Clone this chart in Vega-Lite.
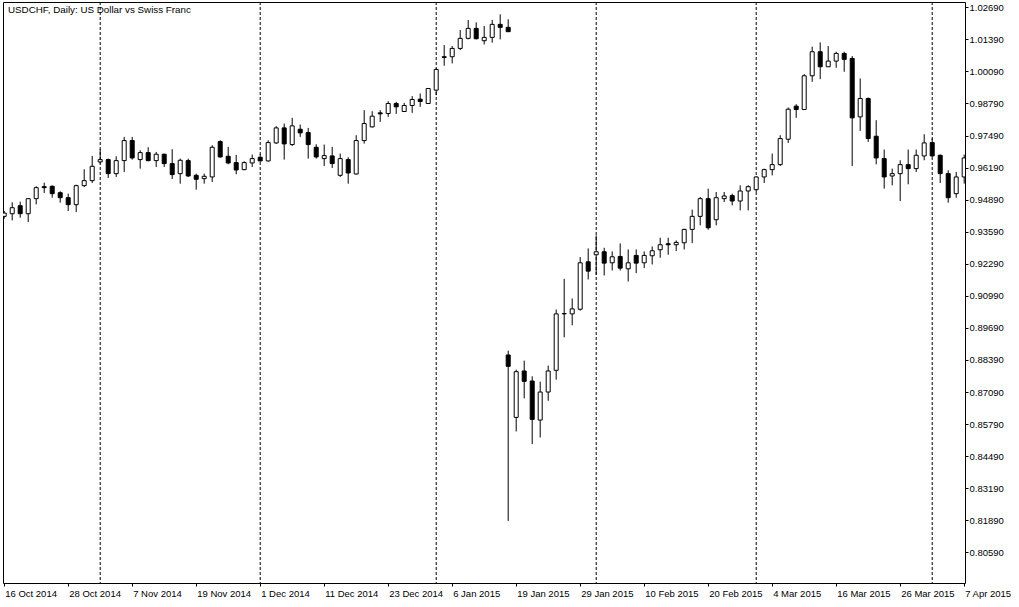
{
  "$schema": "https://vega.github.io/schema/vega-lite/v6.json",
  "width": 962,
  "height": 581,
  "autosize": {"type": "none"},
  "padding": {"left": 3, "top": 2, "right": 54, "bottom": 24},
  "background": "#FFFFFF",
  "title": {
    "text": "USDCHF, Daily:  US Dollar vs Swiss Franc",
    "anchor": "start",
    "frame": "group",
    "offset": -21,
    "baseline": "alphabetic",
    "dx": 5,
    "font": "Liberation Sans",
    "fontSize": 9.8,
    "fontWeight": "normal",
    "color": "#000000"
  },
  "data": {
    "values": [
      {"date": "16 Oct 2014", "open": 0.94212, "high": 0.94429, "low": 0.94117, "close": 0.94347},
      {"date": "17 Oct 2014", "open": 0.94320, "high": 0.94781, "low": 0.94049, "close": 0.94564},
      {"date": "20 Oct 2014", "open": 0.94645, "high": 0.94808, "low": 0.94158, "close": 0.94320},
      {"date": "21 Oct 2014", "open": 0.94320, "high": 0.94940, "low": 0.93982, "close": 0.94930},
      {"date": "22 Oct 2014", "open": 0.94930, "high": 0.95431, "low": 0.94699, "close": 0.95376},
      {"date": "23 Oct 2014", "open": 0.95417, "high": 0.95580, "low": 0.95160, "close": 0.95376},
      {"date": "24 Oct 2014", "open": 0.95431, "high": 0.95471, "low": 0.94970, "close": 0.95133},
      {"date": "27 Oct 2014", "open": 0.95173, "high": 0.95227, "low": 0.94767, "close": 0.94970},
      {"date": "28 Oct 2014", "open": 0.94970, "high": 0.95133, "low": 0.94429, "close": 0.94686},
      {"date": "29 Oct 2014", "open": 0.94686, "high": 0.95498, "low": 0.94388, "close": 0.95458},
      {"date": "30 Oct 2014", "open": 0.95458, "high": 0.96121, "low": 0.95404, "close": 0.95661},
      {"date": "31 Oct 2014", "open": 0.95661, "high": 0.96663, "low": 0.95566, "close": 0.96243},
      {"date": "3 Nov 2014", "open": 0.96419, "high": 0.96934, "low": 0.96351, "close": 0.96514},
      {"date": "4 Nov 2014", "open": 0.96514, "high": 0.96555, "low": 0.95769, "close": 0.95945},
      {"date": "5 Nov 2014", "open": 0.95945, "high": 0.96649, "low": 0.95810, "close": 0.96473},
      {"date": "6 Nov 2014", "open": 0.96473, "high": 0.97435, "low": 0.96013, "close": 0.97286},
      {"date": "7 Nov 2014", "open": 0.97286, "high": 0.97435, "low": 0.96514, "close": 0.96582},
      {"date": "10 Nov 2014", "open": 0.96514, "high": 0.96893, "low": 0.96148, "close": 0.96798},
      {"date": "11 Nov 2014", "open": 0.96798, "high": 0.97015, "low": 0.96446, "close": 0.96473},
      {"date": "12 Nov 2014", "open": 0.96473, "high": 0.96825, "low": 0.96216, "close": 0.96731},
      {"date": "13 Nov 2014", "open": 0.96731, "high": 0.96758, "low": 0.96216, "close": 0.96351},
      {"date": "14 Nov 2014", "open": 0.96351, "high": 0.96934, "low": 0.95729, "close": 0.95905},
      {"date": "17 Nov 2014", "open": 0.95945, "high": 0.96555, "low": 0.95539, "close": 0.96487},
      {"date": "18 Nov 2014", "open": 0.96473, "high": 0.96555, "low": 0.95810, "close": 0.95850},
      {"date": "19 Nov 2014", "open": 0.95877, "high": 0.95945, "low": 0.95295, "close": 0.95715},
      {"date": "20 Nov 2014", "open": 0.95742, "high": 0.95945, "low": 0.95539, "close": 0.95837},
      {"date": "21 Nov 2014", "open": 0.95810, "high": 0.97096, "low": 0.95607, "close": 0.97015},
      {"date": "24 Nov 2014", "open": 0.97245, "high": 0.97299, "low": 0.96595, "close": 0.96622},
      {"date": "25 Nov 2014", "open": 0.96649, "high": 0.97029, "low": 0.96324, "close": 0.96378},
      {"date": "26 Nov 2014", "open": 0.96392, "high": 0.96703, "low": 0.95918, "close": 0.96094},
      {"date": "27 Nov 2014", "open": 0.96108, "high": 0.96446, "low": 0.96081, "close": 0.96392},
      {"date": "28 Nov 2014", "open": 0.96378, "high": 0.96717, "low": 0.96216, "close": 0.96555},
      {"date": "1 Dec 2014", "open": 0.96609, "high": 0.96731, "low": 0.96433, "close": 0.96460},
      {"date": "2 Dec 2014", "open": 0.96460, "high": 0.97299, "low": 0.96433, "close": 0.97205},
      {"date": "3 Dec 2014", "open": 0.97191, "high": 0.97868, "low": 0.97150, "close": 0.97800},
      {"date": "4 Dec 2014", "open": 0.97800, "high": 0.97976, "low": 0.96514, "close": 0.97150},
      {"date": "5 Dec 2014", "open": 0.97123, "high": 0.98207, "low": 0.97069, "close": 0.97882},
      {"date": "8 Dec 2014", "open": 0.97746, "high": 0.97936, "low": 0.97435, "close": 0.97597},
      {"date": "9 Dec 2014", "open": 0.97611, "high": 0.97800, "low": 0.96555, "close": 0.97123},
      {"date": "10 Dec 2014", "open": 0.97015, "high": 0.97137, "low": 0.96555, "close": 0.96622},
      {"date": "11 Dec 2014", "open": 0.96555, "high": 0.97123, "low": 0.96257, "close": 0.96676},
      {"date": "12 Dec 2014", "open": 0.96663, "high": 0.97029, "low": 0.96175, "close": 0.96351},
      {"date": "15 Dec 2014", "open": 0.95877, "high": 0.96758, "low": 0.95810, "close": 0.96555},
      {"date": "16 Dec 2014", "open": 0.96514, "high": 0.96609, "low": 0.95539, "close": 0.95972},
      {"date": "17 Dec 2014", "open": 0.95932, "high": 0.97502, "low": 0.95905, "close": 0.97286},
      {"date": "18 Dec 2014", "open": 0.97286, "high": 0.98518, "low": 0.97164, "close": 0.97976},
      {"date": "19 Dec 2014", "open": 0.97841, "high": 0.98477, "low": 0.97814, "close": 0.98274},
      {"date": "22 Dec 2014", "open": 0.98410, "high": 0.98518, "low": 0.98044, "close": 0.98369},
      {"date": "23 Dec 2014", "open": 0.98383, "high": 0.98883, "low": 0.98247, "close": 0.98789},
      {"date": "24 Dec 2014", "open": 0.98789, "high": 0.98856, "low": 0.98369, "close": 0.98654},
      {"date": "26 Dec 2014", "open": 0.98464, "high": 0.98816, "low": 0.98464, "close": 0.98708},
      {"date": "29 Dec 2014", "open": 0.98708, "high": 0.99087, "low": 0.98410, "close": 0.98952},
      {"date": "30 Dec 2014", "open": 0.98965, "high": 0.99195, "low": 0.98654, "close": 0.98870},
      {"date": "31 Dec 2014", "open": 0.98789, "high": 0.99398, "low": 0.98789, "close": 0.99398},
      {"date": "2 Jan 2015", "open": 0.99331, "high": 1.00211, "low": 0.99128, "close": 1.00170},
      {"date": "5 Jan 2015", "open": 1.00685, "high": 1.01159, "low": 1.00319, "close": 1.00658},
      {"date": "6 Jan 2015", "open": 1.00685, "high": 1.01118, "low": 1.00414, "close": 1.01023},
      {"date": "7 Jan 2015", "open": 1.01023, "high": 1.01768, "low": 1.00956, "close": 1.01430},
      {"date": "8 Jan 2015", "open": 1.01430, "high": 1.02175, "low": 1.01389, "close": 1.01836},
      {"date": "9 Jan 2015", "open": 1.01836, "high": 1.02080, "low": 1.01389, "close": 1.01416},
      {"date": "12 Jan 2015", "open": 1.01335, "high": 1.01931, "low": 1.01186, "close": 1.01470},
      {"date": "13 Jan 2015", "open": 1.01470, "high": 1.02175, "low": 1.01254, "close": 1.01998},
      {"date": "14 Jan 2015", "open": 1.01998, "high": 1.02405, "low": 1.01389, "close": 1.01877},
      {"date": "15 Jan 2015", "open": 1.01877, "high": 1.02202, "low": 1.01701, "close": 1.01701},
      {"date": "15 Jan 2015", "open": 0.88592, "high": 0.88768, "low": 0.81862, "close": 0.88132},
      {"date": "19 Jan 2015", "open": 0.86060, "high": 0.87997, "low": 0.85491, "close": 0.87915},
      {"date": "20 Jan 2015", "open": 0.87942, "high": 0.88362, "low": 0.86832, "close": 0.87522},
      {"date": "21 Jan 2015", "open": 0.87536, "high": 0.87726, "low": 0.84977, "close": 0.85979},
      {"date": "22 Jan 2015", "open": 0.85952, "high": 0.87509, "low": 0.85247, "close": 0.87089},
      {"date": "23 Jan 2015", "open": 0.87089, "high": 0.88159, "low": 0.86737, "close": 0.87942},
      {"date": "26 Jan 2015", "open": 0.87969, "high": 0.90434, "low": 0.87590, "close": 0.90258},
      {"date": "27 Jan 2015", "open": 0.90258, "high": 0.91680, "low": 0.89310, "close": 0.90272},
      {"date": "28 Jan 2015", "open": 0.90258, "high": 0.90881, "low": 0.89797, "close": 0.90461},
      {"date": "29 Jan 2015", "open": 0.90447, "high": 0.92560, "low": 0.90393, "close": 0.92330},
      {"date": "30 Jan 2015", "open": 0.92370, "high": 0.92912, "low": 0.91653, "close": 0.91991},
      {"date": "2 Feb 2015", "open": 0.92655, "high": 0.93440, "low": 0.91842, "close": 0.92777},
      {"date": "3 Feb 2015", "open": 0.92777, "high": 0.92939, "low": 0.91815, "close": 0.92316},
      {"date": "4 Feb 2015", "open": 0.92330, "high": 0.92790, "low": 0.92018, "close": 0.92573},
      {"date": "5 Feb 2015", "open": 0.92587, "high": 0.93115, "low": 0.92018, "close": 0.92113},
      {"date": "6 Feb 2015", "open": 0.92086, "high": 0.92871, "low": 0.91571, "close": 0.92330},
      {"date": "9 Feb 2015", "open": 0.92628, "high": 0.92871, "low": 0.91910, "close": 0.92316},
      {"date": "10 Feb 2015", "open": 0.92330, "high": 0.92790, "low": 0.92113, "close": 0.92628},
      {"date": "11 Feb 2015", "open": 0.92614, "high": 0.92993, "low": 0.92262, "close": 0.92817},
      {"date": "12 Feb 2015", "open": 0.92858, "high": 0.93345, "low": 0.92533, "close": 0.93061},
      {"date": "13 Feb 2015", "open": 0.93102, "high": 0.93345, "low": 0.92655, "close": 0.93061},
      {"date": "16 Feb 2015", "open": 0.93061, "high": 0.93237, "low": 0.92804, "close": 0.93156},
      {"date": "17 Feb 2015", "open": 0.93142, "high": 0.93711, "low": 0.92871, "close": 0.93684},
      {"date": "18 Feb 2015", "open": 0.93684, "high": 0.94483, "low": 0.93127, "close": 0.94212},
      {"date": "19 Feb 2015", "open": 0.94212, "high": 0.94997, "low": 0.93846, "close": 0.94930},
      {"date": "20 Feb 2015", "open": 0.94930, "high": 0.95336, "low": 0.93670, "close": 0.93751},
      {"date": "23 Feb 2015", "open": 0.94076, "high": 0.95200, "low": 0.93846, "close": 0.94970},
      {"date": "24 Feb 2015", "open": 0.94930, "high": 0.95200, "low": 0.94794, "close": 0.95038},
      {"date": "25 Feb 2015", "open": 0.95052, "high": 0.95133, "low": 0.94659, "close": 0.94835},
      {"date": "26 Feb 2015", "open": 0.94835, "high": 0.95471, "low": 0.94456, "close": 0.95241},
      {"date": "27 Feb 2015", "open": 0.95241, "high": 0.95471, "low": 0.94456, "close": 0.95417},
      {"date": "2 Mar 2015", "open": 0.95295, "high": 0.95837, "low": 0.95200, "close": 0.95810},
      {"date": "3 Mar 2015", "open": 0.95810, "high": 0.96148, "low": 0.95566, "close": 0.96108},
      {"date": "4 Mar 2015", "open": 0.96108, "high": 0.96758, "low": 0.95877, "close": 0.96311},
      {"date": "5 Mar 2015", "open": 0.96311, "high": 0.97502, "low": 0.96257, "close": 0.97367},
      {"date": "6 Mar 2015", "open": 0.97340, "high": 0.98626, "low": 0.97191, "close": 0.98559},
      {"date": "9 Mar 2015", "open": 0.98681, "high": 0.98762, "low": 0.98207, "close": 0.98545},
      {"date": "10 Mar 2015", "open": 0.98545, "high": 0.99981, "low": 0.98545, "close": 0.99913},
      {"date": "11 Mar 2015", "open": 0.99913, "high": 1.01091, "low": 0.99669, "close": 1.00888},
      {"date": "12 Mar 2015", "open": 1.00888, "high": 1.01267, "low": 0.99778, "close": 1.00279},
      {"date": "13 Mar 2015", "open": 1.00279, "high": 1.01118, "low": 1.00279, "close": 1.00509},
      {"date": "16 Mar 2015", "open": 1.00509, "high": 1.00888, "low": 1.00238, "close": 1.00820},
      {"date": "17 Mar 2015", "open": 1.00820, "high": 1.00888, "low": 1.00076, "close": 1.00577},
      {"date": "18 Mar 2015", "open": 1.00617, "high": 1.00712, "low": 0.96257, "close": 0.98207},
      {"date": "19 Mar 2015", "open": 0.98247, "high": 0.99805, "low": 0.97679, "close": 0.98992},
      {"date": "20 Mar 2015", "open": 0.98992, "high": 0.99033, "low": 0.97232, "close": 0.97367},
      {"date": "23 Mar 2015", "open": 0.97462, "high": 0.98112, "low": 0.96324, "close": 0.96582},
      {"date": "24 Mar 2015", "open": 0.96555, "high": 0.96920, "low": 0.95336, "close": 0.95810},
      {"date": "25 Mar 2015", "open": 0.95850, "high": 0.96148, "low": 0.95471, "close": 0.95945},
      {"date": "26 Mar 2015", "open": 0.95945, "high": 0.96487, "low": 0.94835, "close": 0.96311},
      {"date": "27 Mar 2015", "open": 0.96311, "high": 0.96920, "low": 0.95512, "close": 0.96148},
      {"date": "30 Mar 2015", "open": 0.96148, "high": 0.96920, "low": 0.96013, "close": 0.96690},
      {"date": "31 Mar 2015", "open": 0.96663, "high": 0.97543, "low": 0.96487, "close": 0.97191},
      {"date": "1 Apr 2015", "open": 0.97205, "high": 0.97367, "low": 0.96622, "close": 0.96663},
      {"date": "2 Apr 2015", "open": 0.96690, "high": 0.96717, "low": 0.95566, "close": 0.95945},
      {"date": "3 Apr 2015", "open": 0.95945, "high": 0.96081, "low": 0.94767, "close": 0.94970},
      {"date": "6 Apr 2015", "open": 0.95133, "high": 0.96013, "low": 0.94970, "close": 0.95810},
      {"date": "7 Apr 2015", "open": 0.95810, "high": 0.96717, "low": 0.95539, "close": 0.96582}
    ]
  },
  "encoding": {
    "x": {
      "field": "date",
      "type": "ordinal",
      "sort": null,
      "scale": {"type": "point", "padding": 0.125, "align": 0.6, "round": false},
      "axis": {
        "title": null,
        "values": ["16 Oct 2014", "28 Oct 2014", "7 Nov 2014", "19 Nov 2014", "1 Dec 2014", "11 Dec 2014", "23 Dec 2014", "6 Jan 2015", "19 Jan 2015", "29 Jan 2015", "10 Feb 2015", "20 Feb 2015", "4 Mar 2015", "16 Mar 2015", "26 Mar 2015", "7 Apr 2015"],
        "labelAngle": 0,
        "labelAlign": "left",
        "labelBaseline": "top",
        "labelOverlap": false,
        "labelFlush": false,
        "labelBound": false,
        "labelPadding": 2,
        "labelOffset": 0.5,
        "tickSize": 3,
        "tickColor": "#000000",
        "domain": false,
        "grid": false
      }
    }
  },
  "layer": [
    {
      "mark": {"type": "rule", "color": "#000000", "strokeWidth": 1, "strokeDash": [3, 2]},
      "encoding": {
        "strokeOpacity": {
          "condition": {"test": "indexof(['3 Nov 2014', '1 Dec 2014', '2 Jan 2015', '2 Feb 2015', '2 Mar 2015', '1 Apr 2015'], datum.date) >= 0", "value": 1},
          "value": 0
        }
      }
    },
    {
      "mark": {"type": "rule", "color": "#000000", "strokeWidth": 1, "clip": true},
      "encoding": {
        "y": {
          "field": "low",
          "type": "quantitative",
          "scale": {"domain": [0.79345, 1.02905], "zero": false, "nice": false},
          "axis": {
            "title": null,
            "orient": "right",
            "values": [0.8059, 0.8189, 0.8319, 0.8449, 0.8579, 0.8709, 0.8839, 0.8969, 0.9099, 0.9229, 0.9359, 0.9489, 0.9619, 0.9749, 0.9879, 1.0009, 1.0139, 1.0269],
            "format": ".5f",
            "tickSize": 3,
            "tickColor": "#000000",
            "labelPadding": 1,
            "labelBaseline": "middle",
            "labelOverlap": false,
            "labelFlush": false,
            "labelBound": false,
            "domain": false,
            "grid": false
          }
        },
        "y2": {"field": "high"}
      }
    },
    {
      "mark": {"type": "bar", "width": 4, "stroke": "#000000", "strokeWidth": 1, "clip": true},
      "encoding": {
        "y": {
          "field": "open",
          "type": "quantitative",
          "axis": {
            "title": null,
            "orient": "right",
            "values": [0.8059, 0.8189, 0.8319, 0.8449, 0.8579, 0.8709, 0.8839, 0.8969, 0.9099, 0.9229, 0.9359, 0.9489, 0.9619, 0.9749, 0.9879, 1.0009, 1.0139, 1.0269],
            "format": ".5f",
            "tickSize": 3,
            "tickColor": "#000000",
            "labelPadding": 1,
            "labelBaseline": "middle",
            "labelOverlap": false,
            "labelFlush": false,
            "labelBound": false,
            "domain": false,
            "grid": false
          }
        },
        "y2": {"field": "close"},
        "fill": {
          "condition": {"test": "datum.close >= datum.open", "value": "#FFFFFF"},
          "value": "#000000"
        },
        "tooltip": [
          {"field": "date", "type": "ordinal", "title": "Date"},
          {"field": "open", "type": "quantitative", "format": ".5f"},
          {"field": "high", "type": "quantitative", "format": ".5f"},
          {"field": "low", "type": "quantitative", "format": ".5f"},
          {"field": "close", "type": "quantitative", "format": ".5f"}
        ]
      }
    }
  ],
  "config": {
    "view": {"stroke": "#000000", "strokeWidth": 1},
    "axis": {
      "labelFont": "Liberation Sans",
      "labelFontSize": 9.5,
      "labelColor": "#000000"
    },
    "axisY": {"labelOverlap": false}
  }
}
